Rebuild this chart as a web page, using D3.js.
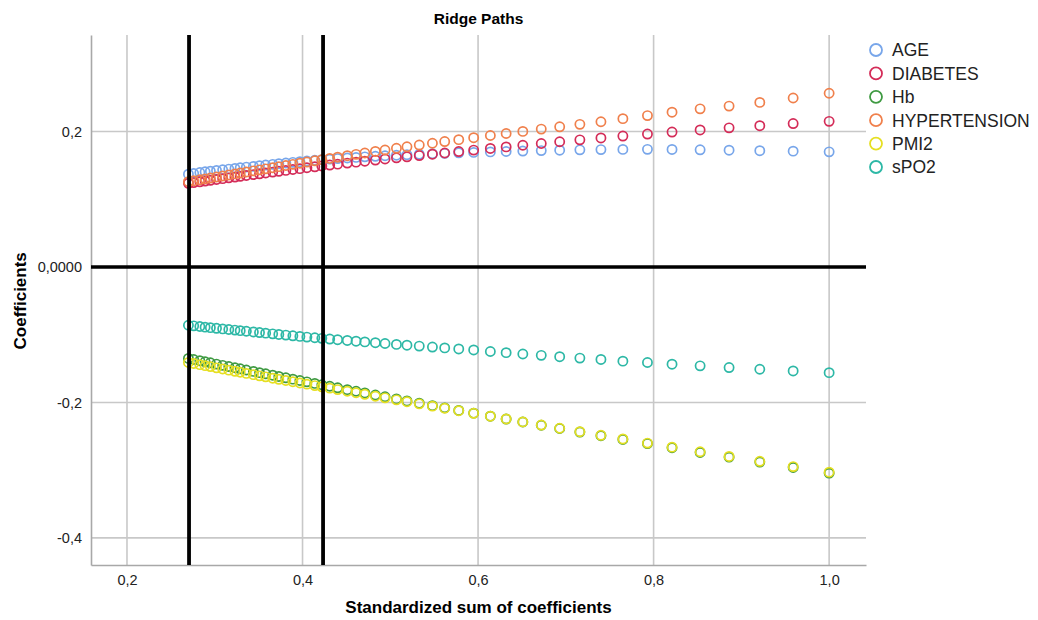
<!DOCTYPE html>
<html>
<head>
<meta charset="utf-8">
<script src="https://cdn.jsdelivr.net/npm/d3@7"></script>
<style>
  body { margin: 0; background: #fff; }
  svg { font-family: "Liberation Sans", Arial, sans-serif; }
</style>
</head>
<body>
<div id="chartDiv"></div>
<script>
//////////
// DATA //
//////////

// standardized sum of coefficients (x) for each ridge step
var sums = [0.270, 0.276, 0.283, 0.289, 0.295, 0.302, 0.309, 0.316, 0.323, 0.329,
  0.336, 0.344, 0.351, 0.358, 0.366, 0.373, 0.381, 0.389, 0.397, 0.405,
  0.414, 0.422, 0.431, 0.440, 0.451, 0.461, 0.471, 0.483, 0.494, 0.507,
  0.519, 0.533, 0.548, 0.562, 0.578, 0.595, 0.614, 0.632, 0.651, 0.672,
  0.693, 0.716, 0.740, 0.765, 0.793, 0.821, 0.853, 0.886, 0.921, 0.959, 1.000];

var age = [0.1370, 0.1380, 0.1395, 0.1405, 0.1415, 0.1425, 0.1435, 0.1445, 0.1455, 0.1465,
  0.1475, 0.1485, 0.1495, 0.1505, 0.1515, 0.1525, 0.1535, 0.1545, 0.1555, 0.1565,
  0.1575, 0.1583, 0.1592, 0.1600, 0.1610, 0.1618, 0.1626, 0.1634, 0.1642, 0.1650,
  0.1657, 0.1664, 0.1671, 0.1678, 0.1685, 0.1692, 0.1699, 0.1705, 0.1712, 0.1718,
  0.1724, 0.1729, 0.1733, 0.1736, 0.1737, 0.1735, 0.1730, 0.1724, 0.1717, 0.1710, 0.1700];

var diabetes = [0.1235, 0.1246, 0.1258, 0.1269, 0.1280, 0.1292, 0.1304, 0.1316, 0.1328, 0.1339,
  0.1351, 0.1364, 0.1376, 0.1388, 0.1401, 0.1413, 0.1426, 0.1439, 0.1452, 0.1465,
  0.1479, 0.1492, 0.1505, 0.1518, 0.1534, 0.1548, 0.1562, 0.1578, 0.1594, 0.1611,
  0.1627, 0.1645, 0.1665, 0.1683, 0.1704, 0.1726, 0.1750, 0.1773, 0.1797, 0.1823,
  0.1849, 0.1877, 0.1905, 0.1933, 0.1963, 0.1992, 0.2023, 0.2054, 0.2086, 0.2118, 0.2150];

var hb = [-0.1350, -0.1366, -0.1384, -0.1400, -0.1415, -0.1434, -0.1452, -0.1470, -0.1488, -0.1503,
  -0.1521, -0.1542, -0.1560, -0.1577, -0.1598, -0.1616, -0.1636, -0.1656, -0.1676, -0.1696,
  -0.1719, -0.1739, -0.1761, -0.1784, -0.1811, -0.1835, -0.1860, -0.1890, -0.1916, -0.1948,
  -0.1977, -0.2011, -0.2047, -0.2080, -0.2118, -0.2158, -0.2203, -0.2245, -0.2289, -0.2337,
  -0.2385, -0.2437, -0.2491, -0.2546, -0.2608, -0.2669, -0.2738, -0.2808, -0.2881, -0.2960, -0.3044];

var hypertension = [0.1260, 0.1273, 0.1288, 0.1301, 0.1314, 0.1329, 0.1344, 0.1359, 0.1374, 0.1387,
  0.1402, 0.1419, 0.1434, 0.1449, 0.1466, 0.1481, 0.1498, 0.1515, 0.1532, 0.1549,
  0.1568, 0.1585, 0.1603, 0.1621, 0.1643, 0.1663, 0.1683, 0.1706, 0.1727, 0.1752,
  0.1774, 0.1800, 0.1827, 0.1852, 0.1880, 0.1909, 0.1941, 0.1971, 0.2002, 0.2036,
  0.2070, 0.2106, 0.2144, 0.2190, 0.2235, 0.2285, 0.2335, 0.2375, 0.2430, 0.2495, 0.2565];

var pmi2 = [-0.1410, -0.1425, -0.1442, -0.1457, -0.1471, -0.1489, -0.1506, -0.1523, -0.1540, -0.1554,
  -0.1571, -0.1590, -0.1607, -0.1622, -0.1642, -0.1658, -0.1676, -0.1694, -0.1712, -0.1730,
  -0.1751, -0.1769, -0.1789, -0.1810, -0.1835, -0.1857, -0.1880, -0.1908, -0.1932, -0.1962,
  -0.1989, -0.2021, -0.2055, -0.2086, -0.2122, -0.2160, -0.2203, -0.2244, -0.2287, -0.2334,
  -0.2381, -0.2432, -0.2485, -0.2539, -0.2600, -0.2660, -0.2728, -0.2797, -0.2869, -0.2947, -0.3029];

var spo2 = [-0.0860, -0.0869, -0.0879, -0.0888, -0.0896, -0.0905, -0.0914, -0.0923, -0.0932, -0.0940,
  -0.0949, -0.0959, -0.0968, -0.0977, -0.0987, -0.0996, -0.1006, -0.1016, -0.1025, -0.1035,
  -0.1045, -0.1054, -0.1064, -0.1074, -0.1085, -0.1096, -0.1106, -0.1118, -0.1130, -0.1143,
  -0.1155, -0.1168, -0.1182, -0.1195, -0.1210, -0.1225, -0.1248, -0.1265, -0.1285, -0.1305,
  -0.1325, -0.1345, -0.1365, -0.1390, -0.1410, -0.1435, -0.1460, -0.1485, -0.1510, -0.1535, -0.1560];

var seriesNames = ["AGE", "DIABETES", "Hb", "HYPERTENSION", "PMI2", "sPO2"];
var seriesValues = [age, diabetes, hb, hypertension, pmi2, spo2];
var seriesColors = ["#78a6ea", "#d42c58", "#3f9a42", "#f0804c", "#e6df22", "#2db8a6"];

var xTicks = [0.2, 0.4, 0.6, 0.8, 1.0];
var yTicks = [0.2, 0, -0.2, -0.4];
// the two selected sums shown as black reference lines
var refSums = [0.2707, 0.4234];

//////////////////////////////
// SVG AND GRAPH DIMENSIONS //
//////////////////////////////

var svgWidth = 1038, svgHeight = 620;
var margin = { top: 35, right: 172, bottom: 55, left: 91 };
var width = svgWidth - margin.left - margin.right,
    height = svgHeight - margin.top - margin.bottom;

var svg = d3.select("#chartDiv")
  .append("svg")
  .attr("width", svgWidth)
  .attr("height", svgHeight);

var g = svg.append("g")
  .attr("transform", "translate(" + margin.left + "," + margin.top + ")");

var x = d3.scaleLinear().domain([0.159, 1.042]).range([0, width]);
var y = d3.scaleLinear().domain([-0.44, 0.3425]).range([height, 0]);

// comma decimals and a plain hyphen for negatives, like the source
var fmtComma = function(d) {
  return d3.format(".1f")(d).replace(".", ",").replace("\u2212", "-");
};

//////////
// GRID //
//////////

g.append("g").selectAll("line")
  .data(xTicks)
  .enter().append("line")
  .attr("x1", function (d) { return x(d); })
  .attr("x2", function (d) { return x(d); })
  .attr("y1", 0)
  .attr("y2", height)
  .attr("stroke", "#c8c8c8")
  .attr("stroke-width", 1.6);

g.append("g").selectAll("line")
  .data(yTicks.filter(function (d) { return d !== 0; }))
  .enter().append("line")
  .attr("x1", 0)
  .attr("x2", width)
  .attr("y1", function (d) { return y(d); })
  .attr("y2", function (d) { return y(d); })
  .attr("stroke", "#c8c8c8")
  .attr("stroke-width", 1.6);

//////////
// AXES //
//////////

var xAxis = d3.axisBottom(x).tickValues(xTicks).tickFormat(fmtComma).tickSize(0).tickPadding(10);
var yAxis = d3.axisLeft(y).tickValues(yTicks).tickSize(0).tickPadding(9)
  .tickFormat(function (d) { return d === 0 ? "0,0000" : fmtComma(d); });

var gx = g.append("g")
  .attr("transform", "translate(0," + height + ")")
  .call(xAxis);
var gy = g.append("g").call(yAxis);

[gx, gy].forEach(function (a) {
  a.select(".domain").attr("stroke", "#a8a8a8").attr("stroke-width", 1.6);
  a.selectAll("text").attr("fill", "#222").style("font-size", "14.5px")
    .style("font-family", "'Liberation Sans', Arial, sans-serif");
});

svg.append("text")
  .attr("x", margin.left + width / 2)
  .attr("y", 613)
  .attr("text-anchor", "middle")
  .style("font-size", "17px")
  .style("font-weight", "bold")
  .text("Standardized sum of coefficients");

svg.append("text")
  .attr("transform", "translate(26," + (margin.top + y(-0.05)) + ") rotate(-90)")
  .attr("text-anchor", "middle")
  .style("font-size", "17px")
  .style("font-weight", "bold")
  .text("Coefficients");

svg.append("text")
  .attr("x", margin.left + width / 2)
  .attr("y", 24)
  .attr("text-anchor", "middle")
  .style("font-size", "15.5px")
  .style("font-weight", "bold")
  .text("Ridge Paths");

////////////
// POINTS //
////////////

seriesValues.forEach(function (vals, i) {
  g.append("g").selectAll("circle")
    .data(vals)
    .enter().append("circle")
    .attr("cx", function (d, j) { return x(sums[j]); })
    .attr("cy", function (d) { return y(d); })
    .attr("r", 4.6)
    .attr("fill", "none")
    .attr("stroke", seriesColors[i])
    .attr("stroke-width", 1.7);
});

/////////////////////
// REFERENCE LINES //
/////////////////////

g.append("line")
  .attr("x1", 0).attr("x2", width)
  .attr("y1", y(0)).attr("y2", y(0))
  .attr("stroke", "#000")
  .attr("stroke-width", 3.6);

g.append("g").selectAll("line")
  .data(refSums)
  .enter().append("line")
  .attr("x1", function (d) { return x(d); })
  .attr("x2", function (d) { return x(d); })
  .attr("y1", 0)
  .attr("y2", height)
  .attr("stroke", "#000")
  .attr("stroke-width", 3.8);

////////////
// LEGEND //
////////////

var legend = svg.append("g").selectAll("g")
  .data(seriesNames)
  .enter().append("g")
  .attr("transform", function (d, i) { return "translate(876," + (50 + i * 23.4) + ")"; });

legend.append("circle")
  .attr("r", 6)
  .attr("fill", "none")
  .attr("stroke", function (d, i) { return seriesColors[i]; })
  .attr("stroke-width", 1.8);

legend.append("text")
  .attr("x", 16)
  .attr("y", 6.3)
  .style("font-size", "17.5px")
  .attr("fill", "#222")
  .text(function (d) { return d; });
</script>
</body>
</html>
